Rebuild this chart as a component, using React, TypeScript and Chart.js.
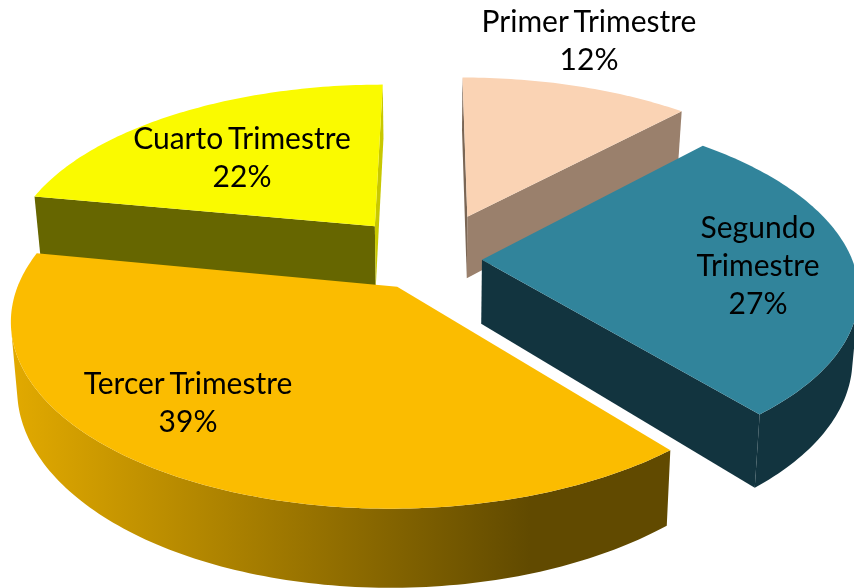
import React, { useEffect, useRef } from "react";
import { Chart, registerables } from "chart.js";

Chart.register(...registerables);

const categories = ["Primer Trimestre", "Segundo Trimestre", "Tercer Trimestre", "Cuarto Trimestre"];
const values = [12, 27, 39, 22];
const topColors = ["#FAD3B4", "#31849B", "#FBBC00", "#FAFA00"];
const explode = [54, 27, 36, 50];
const sideColors = ["#9A806C", "#12343F", "#614A00", "#666600"];
const rimLeftColors = [null, null, "#E2AA00", null];
const startFaceColors = ["#7A6655", "#12343F", "#614A00", "#666600"];
const endFaceColors = ["#9A806C", "#12343F", "#614A00", "#C8C800"];
const labelLines = [["Primer Trimestre"], ["Segundo", "Trimestre"], ["Tercer Trimestre"], ["Cuarto Trimestre"]];
const labelAnchors = [
  [589, 22],
  [758, 228],
  [188, 384],
  [242, 139],
];

const SCALE_X = 1.85;
const SCALE_Y = 0.875;
const PERSPECTIVE = 0.165;
const DEPTH = 0.32;
const LOW_X = 0.985;
const LINE_HEIGHT = 38;
const FONT = '30px Lato, "Open Sans", sans-serif';

type Pt = [number, number];

const pie3d = {
  id: "pie3d",
  beforeDatasetDraw(chart: any) {
    const ctx: CanvasRenderingContext2D = chart.ctx;
    const meta = chart.getDatasetMeta(0);
    const arcs: any[] = meta.data;
    const R = arcs[0].outerRadius;
    const cx = arcs[0].x;
    const cy = arcs[0].y;
    const project = (U: number, V: number, low: boolean): Pt => {
      const s = 1 / (1 - PERSPECTIVE * V);
      return [
        cx + R * SCALE_X * U * s * (low ? LOW_X : 1),
        cy + R * SCALE_Y * V * s + (low ? R * DEPTH * s : 0),
      ];
    };
    const fill = (pts: Pt[], color: any) => {
      ctx.beginPath();
      pts.forEach((p, i) => (i ? ctx.lineTo(p[0], p[1]) : ctx.moveTo(p[0], p[1])));
      ctx.closePath();
      ctx.fillStyle = color;
      ctx.fill();
    };
    const area = (pts: Pt[]) =>
      pts.reduce((a, p, i) => {
        const q = pts[(i + 1) % pts.length];
        return a + p[0] * q[1] - q[0] * p[1];
      }, 0);

    const order = arcs
      .map((el, i) => ({ el, i, mid: (el.startAngle + el.endAngle) / 2 }))
      .sort((a, b) => Math.sin(a.mid) - Math.sin(b.mid));

    ctx.save();
    for (const { el, i, mid } of order) {
      const d = el.options.offset / R;
      const ox = Math.cos(mid) * d;
      const oy = Math.sin(mid) * d;
      const at = (a: number): [number, number] => [ox + Math.cos(a), oy + Math.sin(a)];
      const steps = Math.max(8, Math.round(((el.endAngle - el.startAngle) * 180) / Math.PI));
      const angles: number[] = [];
      for (let k = 0; k <= steps; k++) angles.push(el.startAngle + ((el.endAngle - el.startAngle) * k) / steps);

      const aT = project(ox, oy, false);
      const aB = project(ox, oy, true);
      const sT = project(...at(el.startAngle), false);
      const sB = project(...at(el.startAngle), true);
      const eT = project(...at(el.endAngle), false);
      const eB = project(...at(el.endAngle), true);

      const startFace: Pt[] = [aT, sT, sB, aB];
      if (area(startFace) < 0) fill(startFace, startFaceColors[i]);
      const endFace: Pt[] = [eT, aT, aB, eB];
      if (area(endFace) < 0) fill(endFace, endFaceColors[i]);

      let rim: any = sideColors[i];
      if (rimLeftColors[i]) {
        const g = ctx.createLinearGradient(10, 0, 530, 0);
        g.addColorStop(0, rimLeftColors[i] as string);
        g.addColorStop(1, sideColors[i]);
        rim = g;
      }
      let runUp: Pt[] = [];
      let runLow: Pt[] = [];
      const flush = () => {
        if (runUp.length) fill([...runUp, ...runLow.slice().reverse()], rim);
        runUp = [];
        runLow = [];
      };
      for (let k = 0; k < steps; k++) {
        const a = project(...at(angles[k]), false);
        const b = project(...at(angles[k + 1]), false);
        const c = project(...at(angles[k + 1]), true);
        const e = project(...at(angles[k]), true);
        if (area([a, b, c, e]) < 0) {
          if (!runUp.length) {
            runUp.push(a);
            runLow.push(e);
          }
          runUp.push(b);
          runLow.push(c);
        } else {
          flush();
        }
      }
      flush();

      const top: Pt[] = [aT, ...angles.map((a) => project(...at(a), false))];
      fill(top, el.options.backgroundColor);
    }

    const total = values.reduce((a, b) => a + b, 0);
    ctx.font = FONT;
    (ctx as any).wordSpacing = "-3px";
    ctx.fillStyle = "#000000";
    ctx.textAlign = "center";
    ctx.textBaseline = "middle";
    arcs.forEach((_, i) => {
      const lines = [...labelLines[i], `${Math.round((values[i] / total) * 100)}%`];
      lines.forEach((t, j) => ctx.fillText(t, labelAnchors[i][0], labelAnchors[i][1] + j * LINE_HEIGHT));
    });
    ctx.restore();
    return false;
  },
};

export default function App() {
  const ref = useRef<HTMLCanvasElement>(null);
  useEffect(() => {
    const chart = new Chart(ref.current as HTMLCanvasElement, {
      type: "pie",
      data: {
        labels: categories,
        datasets: [
          {
            data: values,
            backgroundColor: topColors,
            offset: explode,
            borderWidth: 0,
            radius: 200,
          } as any,
        ],
      },
      options: {
        responsive: false,
        animation: false,
        layout: { padding: { left: 10, bottom: 70 } },
        plugins: { legend: { display: false }, tooltip: { enabled: false } },
      },
      plugins: [pie3d],
    } as any);
    return () => chart.destroy();
  }, []);
  return (
    <div style={{ position: "fixed", left: 0, top: 0, width: 854, height: 588, background: "#ffffff" }}>
      <canvas ref={ref} width={854} height={588} style={{ display: "block" }} />
    </div>
  );
}
